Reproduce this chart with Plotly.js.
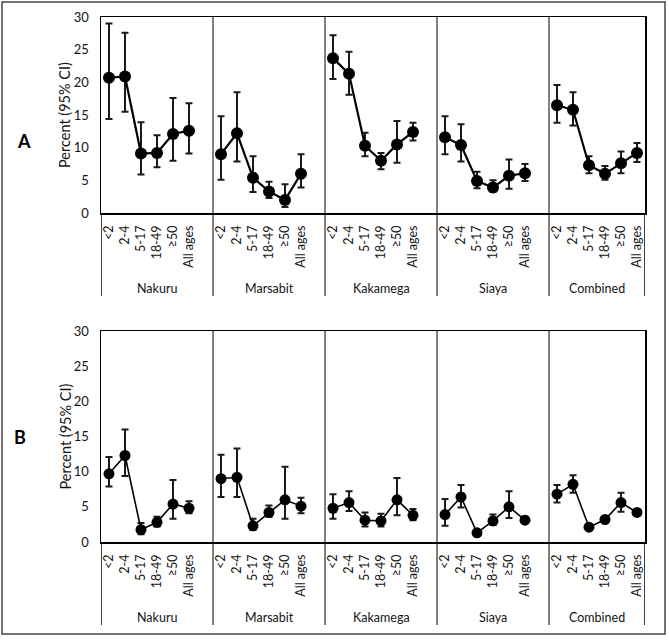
<!DOCTYPE html>
<html>
<head>
<meta charset="utf-8">
<script src="https://cdn.plot.ly/plotly-3.0.1.min.js"></script>
<style>html,body{margin:0;padding:0;background:#fff;}#chart{width:669px;height:642px;}</style>
</head>
<body>
<div id="chart"></div>
<script>
// ---- data ----
const sites = ['Nakuru', 'Marsabit', 'Kakamega', 'Siaya', 'Combined'];
const ageGroups = ['<2', '2-4', '5-17', '18-49', '≥50', 'All ages'];
const yTicks = [0, 5, 10, 15, 20, 25, 30];

// Panel A
const aValue = [
  [20.7, 20.9, 9.1, 9.2, 12.1, 12.6],
  [9.0, 12.2, 5.4, 3.3, 2.0, 6.0],
  [23.7, 21.3, 10.3, 8.0, 10.5, 12.4],
  [11.6, 10.4, 4.9, 3.9, 5.7, 6.1],
  [16.5, 15.8, 7.3, 6.0, 7.6, 9.2]
];
const aLower = [
  [14.4, 15.5, 5.9, 7.0, 8.0, 9.1],
  [5.1, 7.9, 3.2, 2.3, 0.9, 3.9],
  [20.5, 18.1, 8.7, 6.7, 7.7, 11.1],
  [9.0, 7.9, 3.8, 3.2, 3.7, 4.9],
  [13.8, 13.4, 6.1, 5.1, 6.1, 7.8]
];
const aUpper = [
  [29.0, 27.6, 13.9, 11.9, 17.6, 16.8],
  [14.8, 18.5, 8.7, 4.8, 4.4, 9.0],
  [27.2, 24.7, 12.3, 9.2, 14.1, 13.8],
  [14.8, 13.6, 6.3, 5.0, 8.2, 7.5],
  [19.6, 18.5, 8.7, 7.2, 9.4, 10.7]
];

// Panel B
const bValue = [
  [9.7, 12.3, 1.75, 2.8, 5.4, 4.8],
  [9.0, 9.2, 2.3, 4.2, 6.0, 5.1],
  [4.8, 5.6, 3.1, 3.0, 6.0, 3.8],
  [3.9, 6.4, 1.3, 3.0, 5.0, 3.1],
  [6.8, 8.2, 2.1, 3.2, 5.6, 4.2]
];
const bLower = [
  [7.9, 9.4, 1.1, 2.2, 3.3, 4.1],
  [6.4, 6.4, 1.7, 3.6, 3.3, 4.1],
  [3.3, 4.4, 2.2, 2.2, 3.8, 3.1],
  [2.3, 4.9, 0.9, 2.4, 3.4, 2.8],
  [5.6, 7.0, 1.8, 3.0, 4.3, 3.95]
];
const bUpper = [
  [12.1, 16.0, 2.7, 3.6, 8.8, 5.8],
  [12.4, 13.3, 3.3, 5.2, 10.7, 6.3],
  [6.8, 7.2, 4.2, 4.0, 9.1, 4.7],
  [6.1, 8.1, 1.75, 3.9, 7.2, 3.6],
  [8.1, 9.5, 2.4, 3.5, 7.0, 4.45]
];

// ---- layout helpers (pixel geometry of the figure) ----
const W = 669, H = 642;
const px = v => v / W;
const py = v => (H - v) / H;
const slotsPerSite = ageGroups.length + 1; // one blank slot between sites
const xMin = -0.5;
const xMax = sites.length * slotsPerSite - 1 - 0.5;
const FONT = 'Lato, "Open Sans", sans-serif';
const TXT = '#141414';

const panels = [
  {name: 'A', value: aValue, lower: aLower, upper: aUpper, xa: 'x', ya: 'y',
   top: 17, zero: 213, labBottom: 296, groupY: 288, letterX: 24, letterY: 141,
   lineW: 2.2, mSize: 12},
  {name: 'B', value: bValue, lower: bLower, upper: bUpper, xa: 'x2', ya: 'y2',
   top: 331, zero: 542, labBottom: 625, groupY: 617, letterX: 20, letterY: 437,
   lineW: 1.6, mSize: 11}
];

const traces = [];
const shapes = [];
const annotations = [];
const tickVals = [];
const tickText = [];
sites.forEach((s, g) => ageGroups.forEach((a, c) => {
  tickVals.push(g * slotsPerSite + c);
  tickText.push(a);
}));

panels.forEach(p => {
  sites.forEach((s, g) => {
    const xs = ageGroups.map((a, c) => g * slotsPerSite + c);
    const v = p.value[g];
    traces.push({
      type: 'scatter', mode: 'lines+markers',
      x: xs, y: v, xaxis: p.xa, yaxis: p.ya,
      name: s, showlegend: false,
      line: {color: '#000', width: p.lineW},
      marker: {color: '#000', size: p.mSize},
      error_y: {
        type: 'data', symmetric: false,
        array: v.map((val, i) => p.upper[g][i] - val),
        arrayminus: v.map((val, i) => val - p.lower[g][i]),
        color: '#1a1a1a', thickness: 2, width: 3.5
      },
      hoverinfo: 'x+y'
    });
  });
  // site dividers (inside plot and through label area)
  const xref = p.xa;
  for (let g = 0; g <= sites.length; g++) {
    const xPos = Math.min(g * slotsPerSite - 0.5, xMax);
    const inner = g > 0 && g < sites.length;
    shapes.push({
      type: 'line', xref: xref, yref: 'paper',
      x0: xPos, x1: xPos, y0: py(p.labBottom), y1: inner ? py(p.top) : py(p.zero),
      line: {color: '#000', width: inner ? 1 : 1.5}, layer: 'above'
    });
  }
  // site names
  sites.forEach((s, g) => {
    const l = g * slotsPerSite - 0.5;
    const r = Math.min((g + 1) * slotsPerSite - 0.5, xMax);
    annotations.push({
      xref: xref, yref: 'paper', x: (l + r) / 2, y: py(p.groupY),
      text: s, showarrow: false, xanchor: 'center', yanchor: 'middle',
      font: {family: FONT, size: 12.5, color: TXT}
    });
  });
  // y-axis title
  annotations.push({
    xref: 'paper', yref: 'paper', x: px(65), y: py((p.top + p.zero) / 2),
    text: 'Percent (95% CI)', textangle: -90, showarrow: false,
    xanchor: 'center', yanchor: 'middle',
    font: {family: FONT, size: 14.5, color: TXT}
  });
  // panel letter
  annotations.push({
    xref: 'paper', yref: 'paper', x: px(p.letterX), y: py(p.letterY),
    text: '<b>' + p.name + '</b>', showarrow: false,
    xanchor: 'center', yanchor: 'middle',
    font: {family: FONT, size: 18, color: '#000'}
  });
});

// outer frame
shapes.push({
  type: 'rect', xref: 'paper', yref: 'paper',
  x0: px(2), x1: px(665), y0: py(634), y1: py(2),
  line: {color: '#444', width: 1.5}, fillcolor: 'rgba(0,0,0,0)'
});

const xAxisBase = {
  range: [xMin, xMax], domain: [px(101), px(645)],
  tickmode: 'array', tickvals: tickVals, ticktext: tickText,
  tickangle: -90, ticks: '', showgrid: false, zeroline: false,
  showline: true, mirror: true, linecolor: '#000', linewidth: 1.5,
  tickfont: {family: FONT, size: 12.5, color: TXT},
  ticklabelstandoff: 6, fixedrange: true
};
const yAxisBase = {
  range: [0, 30], tickmode: 'array', tickvals: yTicks,
  ticks: '', showgrid: false, zeroline: false,
  showline: true, mirror: true, linecolor: '#000', linewidth: 1.5,
  tickfont: {family: FONT, size: 13, color: TXT},
  ticklabelstandoff: 8, fixedrange: true
};

const layout = {
  width: W, height: H,
  margin: {l: 0, r: 0, t: 0, b: 0},
  paper_bgcolor: '#fff', plot_bgcolor: '#fff',
  showlegend: false,
  font: {family: FONT, color: TXT},
  xaxis: Object.assign({}, xAxisBase, {anchor: 'y'}),
  yaxis: Object.assign({}, yAxisBase, {anchor: 'x', domain: [py(213), py(17)]}),
  xaxis2: Object.assign({}, xAxisBase, {anchor: 'y2'}),
  yaxis2: Object.assign({}, yAxisBase, {anchor: 'x2', domain: [py(542), py(331)]}),
  shapes: shapes,
  annotations: annotations
};

Plotly.newPlot('chart', traces, layout, {displayModeBar: false, staticPlot: true});
</script>
</body>
</html>
